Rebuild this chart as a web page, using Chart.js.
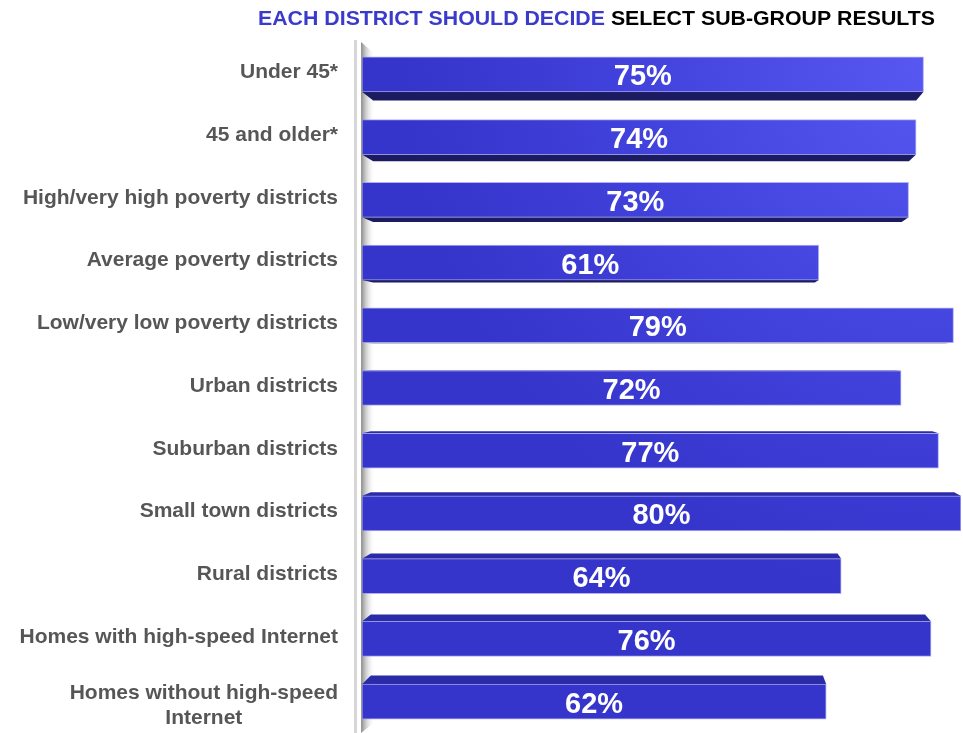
<!DOCTYPE html>
<html>
<head>
<meta charset="utf-8">
<script src="https://cdn.jsdelivr.net/npm/chart.js@4.4.1/dist/chart.umd.min.js"></script>
<style>
html,body{margin:0;padding:0;background:#fff}
#wrap{position:relative;width:963px;height:733px}
</style>
</head>
<body>
<div id="wrap"><canvas id="ch-grupos" width="963" height="733"></canvas></div>
<script>
// ===================== DATOS =====================
const categorias=['Under 45*','45 and older*','High/very high poverty districts','Average poverty districts',
  'Low/very low poverty districts','Urban districts','Suburban districts','Small town districts',
  'Rural districts','Homes with high-speed Internet',['Homes without high-speed','Internet']];
const valores=[75,74,73,61,79,72,77,80,64,76,62];
const tituloAzul='EACH DISTRICT SHOULD DECIDE';
const tituloNegro='SELECT SUB-GROUP RESULTS';
const ejeMax=80;

const fuente='"Liberation Sans", Arial, sans-serif';
const fuga={x:700,y:356}; // punto de fuga de las caras 3D

function haciaFuga(px,py,k){return [px+(fuga.x-px)*k,py+(fuga.y-py)*k];}

// pared izquierda gris (eje)
const pared={id:'pared',beforeDatasetsDraw(chart){
  const ctx=chart.ctx,L=chart.chartArea.left;
  ctx.save();
  ctx.fillStyle='#d6d6d6';
  ctx.fillRect(L-8,40,3,693);
  const g=ctx.createLinearGradient(L,0,L+13,0);
  g.addColorStop(0,'rgba(140,140,140,0.9)');
  g.addColorStop(1,'rgba(255,255,255,0)');
  ctx.fillStyle=g;
  ctx.beginPath();
  ctx.moveTo(L-1,42);ctx.lineTo(L+13,54);ctx.lineTo(L+13,722);ctx.lineTo(L-1,733);ctx.closePath();
  ctx.fill();
  ctx.restore();
}};

// caras superior/inferior de cada barra
const caras={id:'caras',beforeDatasetsDraw(chart){
  const ctx=chart.ctx;
  ctx.save();
  chart.getDatasetMeta(0).data.forEach(bar=>{
    const {x,y,base,height}=bar.getProps(['x','y','base','height'],true);
    const arriba=y<fuga.y;
    const k=arriba?0.033:0.026;
    const ey=arriba?y+height/2:y-height/2;
    const a=haciaFuga(base,ey,k),b=haciaFuga(x,ey,k);
    ctx.beginPath();
    ctx.moveTo(base,ey);ctx.lineTo(x,ey);ctx.lineTo(b[0],b[1]);ctx.lineTo(a[0],a[1]);ctx.closePath();
    ctx.fillStyle=arriba?'#1b1b62':'#2b2ba8';
    ctx.fill();
  });
  ctx.restore();
}};

// etiquetas: porcentajes dentro de la barra y categorias a la izquierda
const etiquetas={id:'etiquetas',afterDatasetsDraw(chart){
  const ctx=chart.ctx,yS=chart.scales.y,L=chart.chartArea.left;
  ctx.save();
  chart.getDatasetMeta(0).data.forEach((bar,i)=>{
    const {x,y,base}=bar.getProps(['x','y','base'],true);
    ctx.font='bold 29px '+fuente;
    ctx.fillStyle='#fff';ctx.textAlign='center';ctx.textBaseline='middle';
    ctx.fillText(valores[i]+'%',(base+x)/2,y+3);
  });
  ctx.font='bold 21px '+fuente;
  ctx.fillStyle='#565656';ctx.textBaseline='middle';
  categorias.forEach((c,i)=>{
    const lineas=Array.isArray(c)?c:[c];
    const yc=yS.getPixelForValue(i)+(lineas.length>1?4:-2);
    const anchoMax=Math.max(...lineas.map(l=>ctx.measureText(l).width));
    const cx=L-24-anchoMax/2,lh=25;
    ctx.textAlign='center';
    lineas.forEach((l,j)=>ctx.fillText(l,cx,yc+(j-(lineas.length-1)/2)*lh));
  });
  ctx.restore();
}};

// titulo a dos colores
const titulo={id:'titulo',afterDraw(chart){
  const ctx=chart.ctx;
  ctx.save();
  ctx.font='bold 21px '+fuente;
  const t1=tituloAzul+' ',w1=ctx.measureText(t1).width,w2=ctx.measureText(tituloNegro).width;
  ctx.translate(258,25);ctx.scale(677/(w1+w2),1);
  ctx.textAlign='left';ctx.textBaseline='alphabetic';
  ctx.fillStyle='#3b3bcb';ctx.fillText(t1,0,0);
  ctx.fillStyle='#000';ctx.fillText(tituloNegro,w1,0);
  ctx.restore();
}};

function colorBarra(ctx){
  const ca=ctx.chart.chartArea;
  if(!ca) return '#3a3ad2';
  const g=ctx.chart.ctx.createRadialGradient(ca.right,40,0,ca.right,40,560);
  g.addColorStop(0,'#5a5af4');
  g.addColorStop(0.55,'#4343de');
  g.addColorStop(1,'#3535cb');
  return g;
}

new Chart(document.getElementById('ch-grupos'),{
  type:'bar',
  data:{labels:categorias,datasets:[{data:valores,backgroundColor:colorBarra,
    borderColor:'rgba(150,150,238,0.75)',borderWidth:1,borderSkipped:false,
    barThickness:35}]},
  options:{indexAxis:'y',responsive:false,animation:false,devicePixelRatio:1,
    layout:{padding:{left:362,right:2,top:43,bottom:0}},
    plugins:{legend:{display:false},tooltip:{enabled:false}},
    scales:{x:{min:0,max:ejeMax,display:false},y:{display:false,offset:true}}},
  plugins:[pared,caras,etiquetas,titulo]
});
</script>
</body>
</html>
